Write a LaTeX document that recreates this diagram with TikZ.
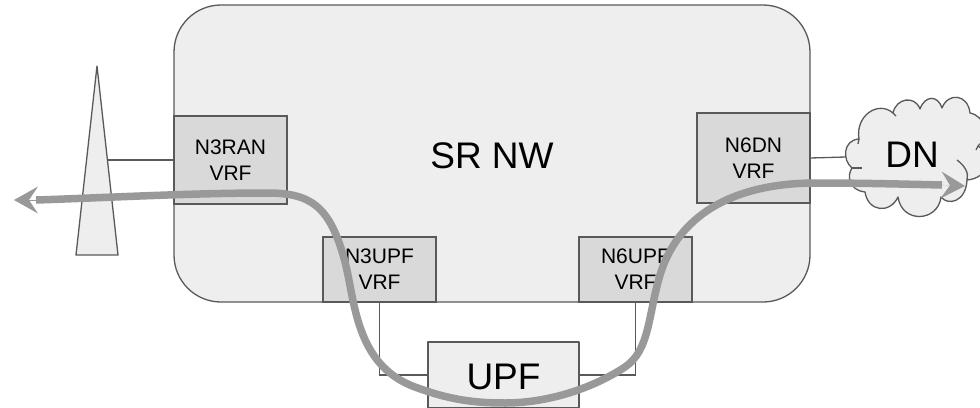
\documentclass[tikz,border=0pt]{standalone}
\usepackage{fontspec}
\setmainfont{Liberation Sans}
\usetikzlibrary{arrows.meta, positioning}
\definecolor{EdgeGray}{HTML}{595959}
\definecolor{ShellGray}{HTML}{EEEEEE}
\definecolor{VrfGray}{HTML}{D9D9D9}
\definecolor{FlowGray}{HTML}{999999}

\begin{document}
\begin{tikzpicture}[
    x=1pt, y=-1pt,
    % Style for the light shapes
    shell/.style = {
        draw=EdgeGray, line width=1.3pt, fill=ShellGray, line join=round,
        outer sep=0pt, inner sep=0pt, align=center,
        font=\fontsize{37}{42}\selectfont
    },
    % Style for the VRF blocks
    vrf/.style = {
        rectangle, draw=EdgeGray, line width=1.3pt, fill=VrfGray,
        outer sep=0pt, inner sep=0pt, minimum width=113pt, align=center,
        font=\fontsize{21}{26}\selectfont,
        execute at begin node={\vspace*{3pt}}
    },
    % Style for thin links
    link/.style = {draw=EdgeGray, line width=1.3pt},
    % Styles for the traffic path
    flow/.style = {draw=FlowGray, line width=7.5pt},
    flowhead/.style = {
        -{Stealth[length=24pt, width=27pt, inset=9pt, line width=0pt]},
        color=FlowGray, line width=0.1pt
    },
]
\useasboundingbox (0,0) rectangle (980,407);

% --- 1. DEFINE NODES ---

% Network
\node[shell, rectangle, rounded corners=47pt, minimum width=636pt, minimum height=297pt,
      text height=30pt, anchor=north west] (srnw) at (174,5) {SR NW};

% VRFs
\node[vrf, minimum height=88pt, below right=111pt and 0pt of srnw.north west] (n3ran) {N3RAN\\VRF};
\node[vrf, minimum height=65pt, above right=0pt and 149pt of srnw.south west] (n3upf) {N3UPF\\VRF};
\node[vrf, minimum height=65pt, above left=0pt and 118pt of srnw.south east] (n6upf) {N6UPF\\VRF};
\node[vrf, minimum height=90pt, below left=108pt and 0pt of srnw.north east] (n6dn) {N6DN\\VRF};

% UPF
\node[shell, rectangle, minimum width=151pt, minimum height=66pt, text height=30pt,
      below right=40pt and -8pt of n3upf.south east] (upf) {UPF};

% Tower
\draw[shell] (97,66) -- (118,255) -- (76,255) -- cycle;
\coordinate (towerside) at (108,160);

% Cloud
\draw[shell] (859,139) .. controls (855,116) and (878,100) .. (893,113)
    .. controls (896,98) and (915,95) .. (920,109)
    .. controls (925,95) and (938,95) .. (942,108)
    .. controls (948,92) and (968,94) .. (970,113)
    .. controls (985,116) and (990,135) .. (978,146)
    .. controls (992,155) and (990,178) .. (967,180)
    .. controls (966,202) and (948,206) .. (941,197)
    .. controls (938,222) and (902,224) .. (898,197)
    .. controls (890,214) and (868,212) .. (865,192)
    .. controls (848,190) and (847,175) .. (852,168)
    .. controls (842,160) and (843,140) .. (859,139) -- cycle;
\draw[link] (852,168) -- (862,168);
\draw[link] (859,139) -- (858,144);
\draw[link] (893,113) -- (896,116);
\draw[link] (978,146) -- (976,150);
\draw[link] (957,160) .. controls (965,166) and (969,173) .. (967,180);
\coordinate (dnside) at (846,157);
\node[inner sep=0pt, font=\fontsize{37}{42}\selectfont] (dn) at (912,155) {DN};

% --- 2. DRAW CONNECTORS ---
\draw[link] (towerside) -- (towerside -| n3ran.west);
\draw[link] (n6dn.east |- 0,158) -- (dnside);
\draw[link] (n3upf.south) |- (upf.west);
\draw[link] (n6upf.south) |- (upf.east);

% --- 3. TRAFFIC PATH ---
\coordinate (flowwest) at (36,200);
\coordinate (floweast) at (942,185);
\coordinate (tipwest) at (14,200);
\coordinate (tipeast) at (965,186);
\draw[flow] (flowwest) .. controls (100,198) and (190,193) .. (267,193)
    .. controls (310,193) and (330,205) .. (345,262)
    .. controls (355,300) and (355,365) .. (415,387)
    .. controls (450,400) and (475,403) .. (505,403)
    .. controls (545,403) and (590,390) .. (625,367)
    .. controls (650,350) and (648,315) .. (660,275)
    .. controls (675,225) and (720,184) .. (813,183)
    .. controls (860,183) and (900,184) .. (floweast);
\draw[flowhead] (flowwest) -- (tipwest);
\draw[flowhead] (floweast) -- (tipeast);

\end{tikzpicture}
\end{document}
